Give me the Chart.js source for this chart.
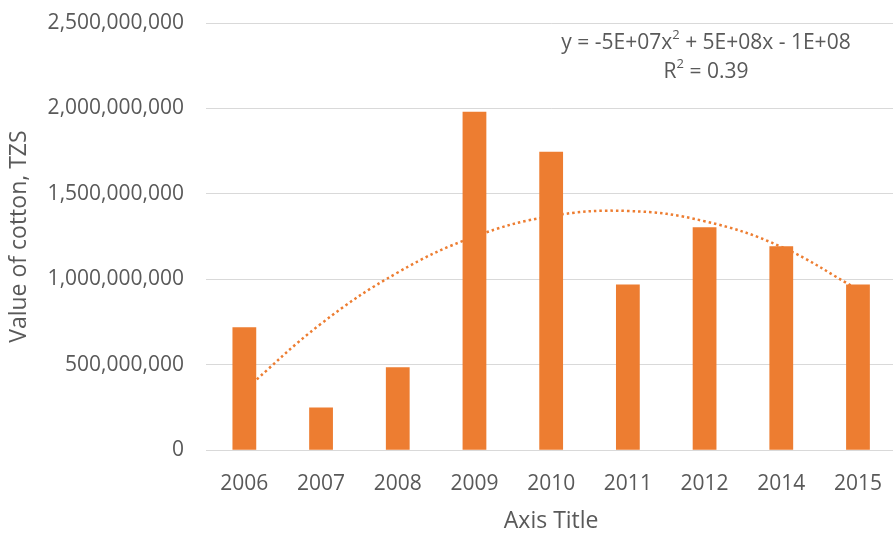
<!DOCTYPE html>
<html>
<head>
<meta charset="utf-8">
<script src="https://cdn.jsdelivr.net/npm/chart.js@4.4.1/dist/chart.umd.min.js"></script>
<style>
  html, body { margin: 0; padding: 0; background: #fff; overflow: hidden; }
  #wrap { width: 903px; height: 533px; position: relative; }
</style>
</head>
<body>
<div id="wrap"><canvas id="cottonChart"></canvas></div>
<script>
// cotton value by year (TZS)
const years = ['2006', '2007', '2008', '2009', '2010', '2011', '2012', '2014', '2015'];
const cottonValue = [720000000, 250000000, 485000000, 1980000000, 1747000000, 970000000, 1304000000, 1193000000, 970000000];
// polynomial trendline values at each year
const trendValues = [350000000, 740000000, 1040000000, 1250000000, 1370000000, 1400000000, 1340000000, 1190000000, 940000000];
const yMin = 0, yMax = 2500000000, yStep = 500000000;
const equationParts = [['y = -5E+07x', false], ['2', true], [' + 5E+08x - 1E+08', false]];
const rSquaredParts = [['R', false], ['2', true], [' = 0.39', false]];

const orange = '#ED7D31';
const textGrey = '#595959';
const fontFamily = '"Open Sans", sans-serif';

// draws a line of text with superscript pieces, centred on cx
function drawSupText(ctx, parts, cx, cy, size) {
  const supSize = Math.round(size * 0.62);
  let total = 0;
  parts.forEach(([t, sup]) => {
    ctx.font = (sup ? supSize : size) + 'px ' + fontFamily;
    total += ctx.measureText(t).width;
  });
  let x = cx - total / 2;
  parts.forEach(([t, sup]) => {
    ctx.font = (sup ? supSize : size) + 'px ' + fontFamily;
    ctx.fillText(t, x, sup ? cy - size * 0.35 : cy);
    x += ctx.measureText(t).width;
  });
}

const equationLabel = {
  id: 'equationLabel',
  afterDraw(chart) {
    const ctx = chart.ctx;
    ctx.save();
    ctx.fillStyle = textGrey;
    ctx.textBaseline = 'middle';
    ctx.textAlign = 'left';
    drawSupText(ctx, equationParts, 706, 43, 21);
    drawSupText(ctx, rSquaredParts, 706, 72, 21);
    ctx.restore();
  }
};

new Chart(document.getElementById('cottonChart'), {
  data: {
    labels: years,
    datasets: [
      {
        type: 'bar',
        data: cottonValue,
        backgroundColor: orange,
        barPercentage: 0.31,
        categoryPercentage: 1,
        order: 0
      },
      {
        type: 'line',
        data: trendValues,
        borderColor: orange,
        borderWidth: 2.5,
        borderDash: [2.5, 3],
        pointRadius: 0,
        tension: 0.4,
        fill: false,
        order: 1
      }
    ]
  },
  options: {
    responsive: true,
    maintainAspectRatio: false,
    animation: false,
    layout: { padding: { left: 6, top: 23, right: 0, bottom: -2 } },
    plugins: {
      legend: { display: false },
      tooltip: { enabled: false }
    },
    scales: {
      x: {
        grid: { display: false, drawTicks: false },
        border: { display: true, color: '#D9D9D9', width: 1 },
        ticks: { color: textGrey, font: { family: fontFamily, size: 21 }, padding: 21, maxRotation: 0 },
        title: { display: true, text: 'Axis Title', color: textGrey, font: { family: fontFamily, size: 23 }, padding: { top: -10, bottom: 0 } }
      },
      y: {
        min: yMin,
        max: yMax,
        ticks: {
          stepSize: yStep,
          color: textGrey,
          font: { family: fontFamily, size: 21 },
          padding: 22,
          callback: v => v.toLocaleString('en-US')
        },
        grid: { color: '#D9D9D9', lineWidth: 1, drawTicks: false },
        border: { display: false },
        title: { display: true, text: 'Value of cotton, TZS', color: textGrey, font: { family: fontFamily, size: 23 }, padding: { top: 0, bottom: 0 } },
        afterFit: scale => {
          scale.width = 200;
          // keep the top gridline at the layout padding
          scale.paddingTop = 0;
          scale.paddingBottom = 0;
        }
      }
    }
  },
  plugins: [equationLabel]
});
</script>
</body>
</html>
